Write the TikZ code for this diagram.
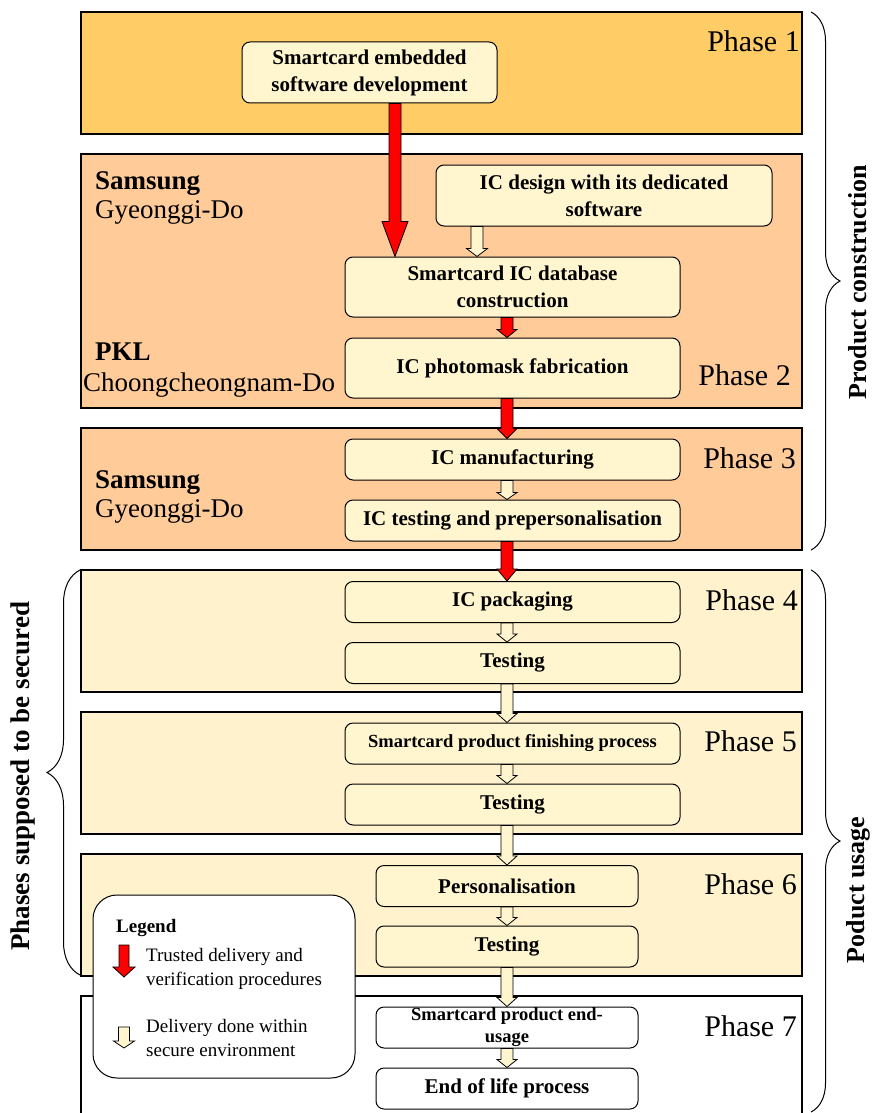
\documentclass[tikz,border=0pt]{standalone}
\usepackage{fontspec}
\setmainfont{Liberation Serif}
\usepackage{tikz}
\usetikzlibrary{calc,decorations.pathreplacing}
\definecolor{PhaseGold}{HTML}{FFCC66}
\definecolor{PhasePeach}{HTML}{FFCC99}
\definecolor{PhaseCream}{HTML}{FFF2CC}
\definecolor{StepCream}{HTML}{FFF5CF}
\definecolor{TrustRed}{HTML}{FF0000}

% block arrow: style, from, to, half shaft, half head, head length
\newcommand{\blockarrow}[6]{%
  \draw[#1] let \p1=(#2), \p2=(#3) in
    (\x1-#4,\y1) -- (\x1-#4,\y2+#6) -- (\x1-#5,\y2+#6) -- (\x1,\y2)
    -- (\x1+#5,\y2+#6) -- (\x1+#4,\y2+#6) -- (\x1+#4,\y1) -- cycle;}

\begin{document}
\begin{tikzpicture}[x=1pt,y=-1pt,
  band/.style={draw,line width=1.2pt,minimum width=721pt,minimum height=122pt,inner sep=0pt},
  stepbox/.style={draw,line width=1pt,fill=StepCream,rounded corners=8pt,minimum width=335pt,minimum height=41pt,align=center,inner sep=1pt,font=\fontsize{21}{27}\selectfont\bfseries},
  smallstep/.style={font=\fontsize{18.5}{22}\selectfont\bfseries},
  phaselbl/.style={anchor=east,inner sep=0pt,font=\fontsize{30}{34}\selectfont},
  site/.style={anchor=base west,inner sep=0pt,font=\fontsize{27}{30}\selectfont},
  sitebold/.style={site,font=\fontsize{27}{30}\selectfont\bfseries},
  sidelbl/.style={rotate=90,inner sep=0pt,font=\fontsize{26}{30}\selectfont\bfseries},
  legtxt/.style={anchor=west,align=left,inner sep=0pt,font=\fontsize{19}{24}\selectfont},
  trusted/.style={draw,line width=0.8pt,fill=TrustRed},
  secure/.style={draw,line width=0.8pt,fill=StepCream},
  brc/.style={decorate,decoration={brace,amplitude=#1pt},line width=1pt},
]
\useasboundingbox (0,0) rectangle (873,1113);

% phase bands
\node[band,fill=PhaseGold] (ph1) at (441.5,73) {};
\node[band,fill=PhasePeach,minimum height=254pt] (ph2) at (441.5,281) {};
\node[band,fill=PhasePeach] (ph3) at (441.5,489) {};
\node[band,fill=PhaseCream] (ph4) at (441.5,631) {};
\node[band,fill=PhaseCream] (ph5) at (441.5,773) {};
\node[band,fill=PhaseCream] (ph6) at (441.5,915) {};
\node[band,fill=white,minimum height=140pt] (ph7) at (441.5,1066) {};

\node[phaselbl] (lbl1) at (800,41) {Phase 1};
\node[phaselbl] (lbl2) at (791,375) {Phase 2};
\node[phaselbl] (lbl3) at (796,458) {Phase 3};
\node[phaselbl] (lbl4) at (798,600) {Phase 4};
\node[phaselbl] (lbl5) at (797,741) {Phase 5};
\node[phaselbl] (lbl6) at (797,884) {Phase 6};
\node[phaselbl] (lbl7) at (797,1026) {Phase 7};

% sites
\node[sitebold] (sam2) at (95,189) {Samsung};
\node[site] (gyeo2) at (95,218) {Gyeonggi-Do};
\node[sitebold] (pkl) at (95,360) {PKL};
\node[site] (choong) at (83,391) {Choongcheongnam-Do};
\node[sitebold] (sam3) at (95,488) {Samsung};
\node[site] (gyeo3) at (95,517) {Gyeonggi-Do};

% braces
\draw[brc=29] (811,12) -- (811,550);
\draw[brc=29] (811,570) -- (811,1112);
\draw[brc=33] (80,975) -- (80,570);
\node[sidelbl] (pcon) at (858,282) {Product construction};
\node[sidelbl] (puse) at (858,890) {Poduct usage};
\node[sidelbl,font=\fontsize{27}{30}\selectfont\bfseries] (psec) at (23,776) {Phases supposed to be secured};

% steps
\node[stepbox,minimum width=255pt,minimum height=61pt] (sw) at (369.5,72.5) {Smartcard embedded\\software development};
\node[stepbox,minimum width=336pt,minimum height=61pt] (icd) at (604,195.5) {IC design with its dedicated\\software};
\node[stepbox,minimum height=60pt] (db) at (512.5,287) {Smartcard IC database\\construction};
\node[stepbox,minimum height=60pt] (mask) at (512.5,368) {IC photomask fabrication};
\node[stepbox] (mfg) at (512.5,459.5) {IC manufacturing};
\node[stepbox] (tst) at (512.5,520.5) {IC testing and prepersonalisation};
\node[stepbox] (pkg) at (512.5,602) {IC packaging};
\node[stepbox] (t4) at (512.5,663) {Testing};
\node[stepbox,smallstep] (fin) at (512.5,743.5) {Smartcard product finishing process};
\node[stepbox] (t5) at (512.5,804.5) {Testing};
\node[stepbox,minimum width=262pt] (pers) at (507,886) {Personalisation};
\node[stepbox,minimum width=262pt] (t6) at (507,946.5) {Testing};
\node[stepbox,smallstep,minimum width=262pt,fill=white,inner ysep=0pt] (use) at (507,1027.5) {Smartcard product end-\\usage};
\node[stepbox,minimum width=262pt,fill=white] (eol) at (507,1088.5) {End of life process};

% deliveries
\blockarrow{trusted}{[xshift=25.5pt]sw.south}{db.north}{6pt}{13pt}{35pt}
\blockarrow{secure}{[xshift=-127pt]icd.south}{db.north}{6pt}{10.5pt}{8pt}
\blockarrow{trusted}{[xshift=-5.5pt]db.south}{mask.north}{6pt}{10pt}{8pt}
\blockarrow{trusted}{[xshift=-5.5pt]mask.south}{mfg.north}{6pt}{10pt}{10pt}
\blockarrow{secure}{[xshift=-5.5pt]mfg.south}{tst.north}{6pt}{10pt}{7pt}
\blockarrow{trusted}{[xshift=-5.5pt]tst.south}{pkg.north}{6pt}{10pt}{12pt}
\blockarrow{secure}{[xshift=-5.5pt]pkg.south}{t4.north}{6pt}{10pt}{8pt}
\blockarrow{secure}{[xshift=-5.5pt]t4.south}{fin.north}{6pt}{10pt}{9pt}
\blockarrow{secure}{[xshift=-5.5pt]fin.south}{t5.north}{6pt}{10pt}{8pt}
\blockarrow{secure}{[xshift=-5.5pt]t5.south}{pers.north}{6pt}{10pt}{9pt}
\blockarrow{secure}{pers.south}{t6.north}{6pt}{10pt}{8pt}
\blockarrow{secure}{t6.south}{use.north}{6pt}{10pt}{9pt}
\blockarrow{secure}{use.south}{eol.north}{6pt}{10pt}{8pt}

% legend
\node[draw,line width=1pt,fill=white,rounded corners=24pt,minimum width=262pt,minimum height=183pt] (legend) at (224,986.5) {};
\node[anchor=base west,inner sep=0pt,font=\fontsize{19}{22}\selectfont\bfseries] (lgtitle) at (116,932) {Legend};
\coordinate (lr0) at (124,945);
\coordinate (lr1) at (124,977);
\blockarrow{trusted}{lr0}{lr1}{5pt}{11pt}{10pt}
\node[legtxt] (lgtrust) at (146,969) {Trusted delivery and\\verification procedures};
\coordinate (ls0) at (124,1027);
\coordinate (ls1) at (124,1048);
\blockarrow{secure}{ls0}{ls1}{5.5pt}{10.5pt}{7pt}
\node[legtxt] (lgsec) at (146,1038) {Delivery done within\\secure environment};
\end{tikzpicture}
\end{document}
